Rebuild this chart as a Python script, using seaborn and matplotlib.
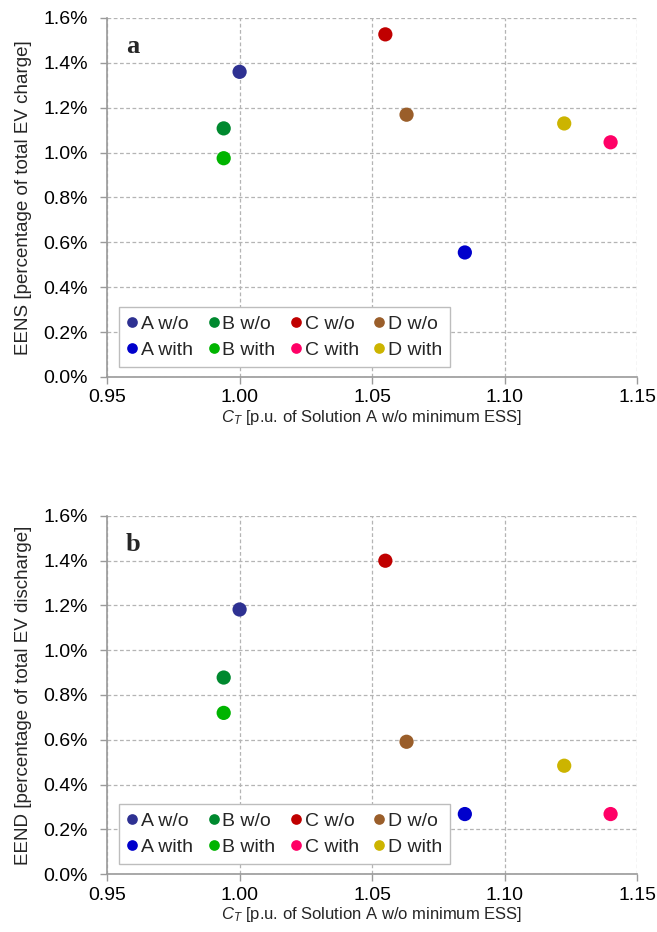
import matplotlib
matplotlib.use("Agg")
import matplotlib.pyplot as plt
import matplotlib.ticker as mticker
import pandas as pd
import seaborn as sns

sns.set_theme(style="white")
plt.rcParams['font.family'] = ['Liberation Sans', 'DejaVu Sans']
plt.rcParams['mathtext.fontset'] = 'custom'
plt.rcParams['mathtext.it'] = 'Liberation Sans:italic'
plt.rcParams['mathtext.rm'] = 'Liberation Sans'

# series (legend order, column-wise for a 4-column legend)
solutions = ["A w/o", "A with", "B w/o", "B with", "C w/o", "C with", "D w/o", "D with"]
colors = ["#2E3192", "#0000CC", "#00892F", "#00B400", "#C00000", "#FF0066", "#9A5E2A", "#CCB400"]

# C_T in p.u.
cost = [1.000, 1.085, 0.994, 0.994, 1.055, 1.140, 1.063, 1.1225]
# EENS / EEND in percent
eens = [1.36, 0.555, 1.108, 0.975, 1.527, 1.046, 1.169, 1.13]
eend = [1.182, 0.268, 0.878, 0.72, 1.40, 0.268, 0.591, 0.484]

ylabels = ["EENS [percentage of total EV charge]",
           "EEND [percentage of total EV discharge]"]
panel_tags = ["a", "b"]
xlabel = r"$C_T$ [p.u. of Solution A w/o minimum ESS]"

palette = dict(zip(solutions, colors))

fig = plt.figure(figsize=(6.57, 9.32), dpi=100)
ax_a = fig.add_axes([0.163, 0.5955, 0.8067, 0.3852])
ax_b = fig.add_axes([0.163, 0.0622, 0.8067, 0.3842])

for ax, yvals, ylab, tag in zip([ax_a, ax_b], [eens, eend], ylabels, panel_tags):
    df = pd.DataFrame({"Solution": solutions, "cost": cost, "value": yvals})
    sns.scatterplot(data=df, x="cost", y="value", hue="Solution",
                    hue_order=solutions, palette=palette, s=105,
                    edgecolor="none", ax=ax, zorder=3)

    ax.set_xlim(0.95, 1.15)
    ax.set_ylim(0, 1.6)
    ax.xaxis.set_major_locator(mticker.MultipleLocator(0.05))
    ax.yaxis.set_major_locator(mticker.MultipleLocator(0.2))
    ax.xaxis.set_major_formatter(mticker.FormatStrFormatter("%.2f"))
    ax.yaxis.set_major_formatter(mticker.FormatStrFormatter("%.1f%%"))

    ax.grid(True, linestyle=(0, (3, 2)), color="#b4b4b4", linewidth=0.9)
    ax.set_axisbelow(True)
    for side in ["top", "right"]:
        ax.spines[side].set_visible(False)
    for side in ["left", "bottom"]:
        ax.spines[side].set_color("#9a9a9a")
        ax.spines[side].set_linewidth(1.2)
    ax.tick_params(axis="both", direction="out", length=5, width=1,
                   color="#9a9a9a", labelsize=14, labelcolor="black",
                   left=True, bottom=True)
    ax.tick_params(axis="y", pad=9)
    ax.tick_params(axis="x", pad=4)

    ax.set_xlabel(xlabel, fontsize=12, labelpad=1)
    ax.set_ylabel(ylab, fontsize=13.5, labelpad=8)

    ax.text(0.035, 0.92, tag, transform=ax.transAxes, fontsize=19,
            fontweight="bold", family="Liberation Serif", va="center")

    handles, labels = ax.get_legend_handles_labels()
    ax.legend(handles, labels, ncol=4, loc="lower left",
              bbox_to_anchor=(0.022, 0.028), fontsize=14, frameon=True,
              fancybox=False, edgecolor="#bdbdbd", framealpha=1,
              handletextpad=0.15, columnspacing=0.75, markerscale=0.75,
              borderpad=0.4, labelspacing=0.45, handlelength=0.6,
              borderaxespad=0)

fig.savefig("out.png", dpi=100)
